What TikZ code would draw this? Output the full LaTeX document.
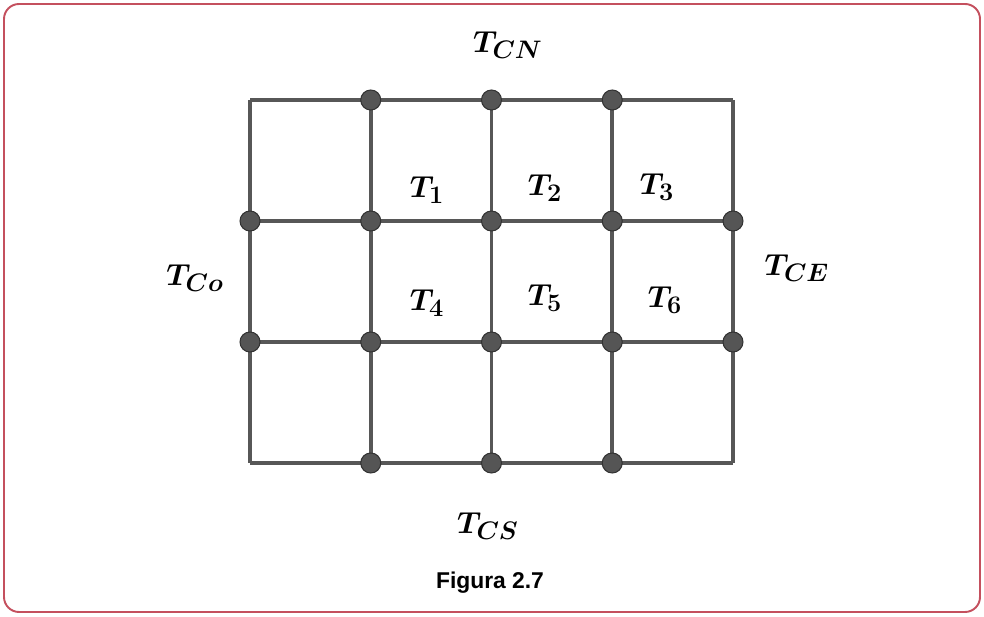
\documentclass[tikz,border=0pt]{standalone}
\usepackage{amsmath,amssymb}
\usepackage{fontspec}
\newfontfamily\capfont{Liberation Sans}
\definecolor{framered}{HTML}{C4505E}
\definecolor{gridgray}{HTML}{575757}
\definecolor{dotgray}{HTML}{555555}
\definecolor{dotedge}{HTML}{333333}
\tikzset{
  gridline/.style={gridgray, line width=2.2pt},
  knot/.style={circle, fill=dotgray, draw=dotedge, line width=0.6pt, minimum size=0.4cm, inner sep=0pt},
  tlabel/.style={font=\fontsize{19}{21}\selectfont, inner sep=0pt}
}
\begin{document}
\begin{tikzpicture}
  \useasboundingbox (0,0) rectangle (19.68,12.32);
  \draw[framered, line width=1.1pt, rounded corners=0.3cm] (0.08,0.08) rectangle (19.6,12.24);

  % grid points
  \foreach \i in {0,...,4}
    \foreach \j in {0,...,3}
      \coordinate (p\i\j) at (5+2.415*\i, 3.06+2.42*\j);

  \foreach \i in {0,...,4}
    \draw[gridline] (p\i0) -- (p\i3);
  \foreach \j in {0,...,3}
    \draw[gridline] (p0\j) -- (p4\j);

  % knots
  \foreach \i in {1,2,3} {
    \node[knot] (top\i) at (p\i3) {};
    \node[knot] (bot\i) at (p\i0) {};
  }
  \foreach \i in {0,...,4} {
    \node[knot] (upper\i) at (p\i2) {};
    \node[knot] (lower\i) at (p\i1) {};
  }

  % labels
  \node[tlabel] (tcn) at (10.16,11.42) {$\boldsymbol{T_{CN}}$};
  \node[tlabel] (tco) at (3.9,6.76) {$\boldsymbol{T_{Co}}$};
  \node[tlabel] (tce) at (15.94,6.96) {$\boldsymbol{T_{CE}}$};
  \node[tlabel] (tcs) at (9.76,1.8) {$\boldsymbol{T_{CS}}$};
  \node[tlabel] (t1) at (8.54,8.52) {$\boldsymbol{T_1}$};
  \node[tlabel] (t2) at (10.9,8.56) {$\boldsymbol{T_2}$};
  \node[tlabel] (t3) at (13.14,8.58) {$\boldsymbol{T_3}$};
  \node[tlabel] (t4) at (8.54,6.26) {$\boldsymbol{T_4}$};
  \node[tlabel] (t5) at (10.9,6.36) {$\boldsymbol{T_5}$};
  \node[tlabel] (t6) at (13.3,6.32) {$\boldsymbol{T_6}$};

  \node[font=\capfont\bfseries\fontsize{13}{15}\selectfont] (caption) at (9.8,0.66) {Figura 2.7};
\end{tikzpicture}
\end{document}
